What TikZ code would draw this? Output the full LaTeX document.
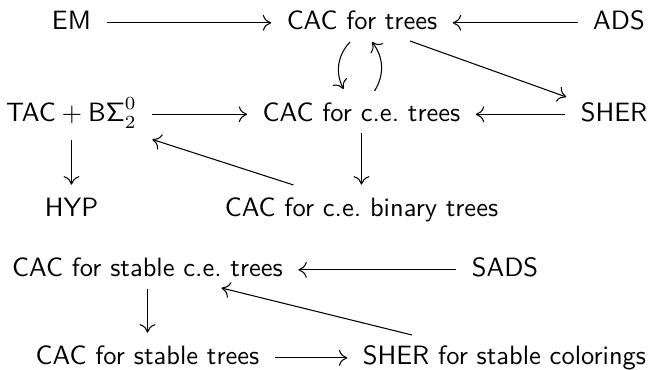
\documentclass[tikz,border=0pt]{standalone}
\usetikzlibrary{arrows.meta,calc}
\begin{document}
\begin{tikzpicture}[x=0.3774pt,y=-0.3774pt,
  box/.style={font=\sffamily, anchor=base, inner xsep=5.66pt, inner ysep=4.2pt, text height=7.8pt},
  arr/.style={-{Computer Modern Rightarrow[length=3.2pt,width=6pt]}, line width=0.4pt},
  ax/.style={yshift=2.7pt}]
\useasboundingbox (0,0) rectangle (651,370);
\node[box] (em)   at (71.5,30)    {EM};
\node[box] (cact) at (362,30)     {CAC for trees};
\node[box] (ads)  at (619,30)     {ADS};
\node[box] (tac)  at (71.5,121.5) {$\mathsf{TAC}+\mathsf{B\Sigma}^0_2$};
\node[box] (cace) at (361.5,121.5){CAC for c.e.\ trees};
\node[box] (sher) at (614,121.5)  {SHER};
\node[box] (hyp)  at (71.5,217)   {HYP};
\node[box] (bin)  at (361.5,217)  {CAC for c.e.\ binary trees};
\node[box] (csce) at (147.5,277)  {CAC for stable c.e.\ trees};
\node[box] (sads) at (505,277)    {SADS};
\node[box] (cst)  at (147.5,365)  {CAC for stable trees};
\node[box] (shs)  at (504.5,365)  {SHER for stable colorings};
% horizontal
\draw[arr] ([ax]em.base east) -- ([ax]cact.base west);
\draw[arr] ([ax]ads.base west) -- ([ax]cact.base east);
\draw[arr] ([ax]tac.base east) -- ([ax]cace.base west);
\draw[arr] ([ax]sher.base west) -- ([ax]cace.base east);
\draw[arr] ([ax]sads.base west) -- ([ax]csce.base east);
\draw[arr] ([ax]cst.base east) -- ([ax]shs.base west);
% vertical
\draw[arr] (tac.south) -- (hyp.north);
\draw[arr] (cace.south) -- (bin.north);
\draw[arr] (csce.south) -- (cst.north);
% curved
\draw[arr] ($(cact.base)+(-12,12)$) to[bend right=35] ($(cace.base)+(-18,-32.5)$);
\draw[arr] ($(cace.base)+(13,-30.5)$) to[bend right=35] ($(cact.base)+(10,12)$);
% diagonals
\draw[arr] ($(cact.base)+(48,11)$) -- ($(sher.base west)+(1,-24.5)$);
\draw[arr] ($(bin.base)+(-68,-32)$) -- ($(tac.base east)+(0,18)$);
\draw[arr] ($(shs.base)+(-92.5,-30)$) -- ($(csce.base)+(74,11)$);
\end{tikzpicture}
\end{document}
